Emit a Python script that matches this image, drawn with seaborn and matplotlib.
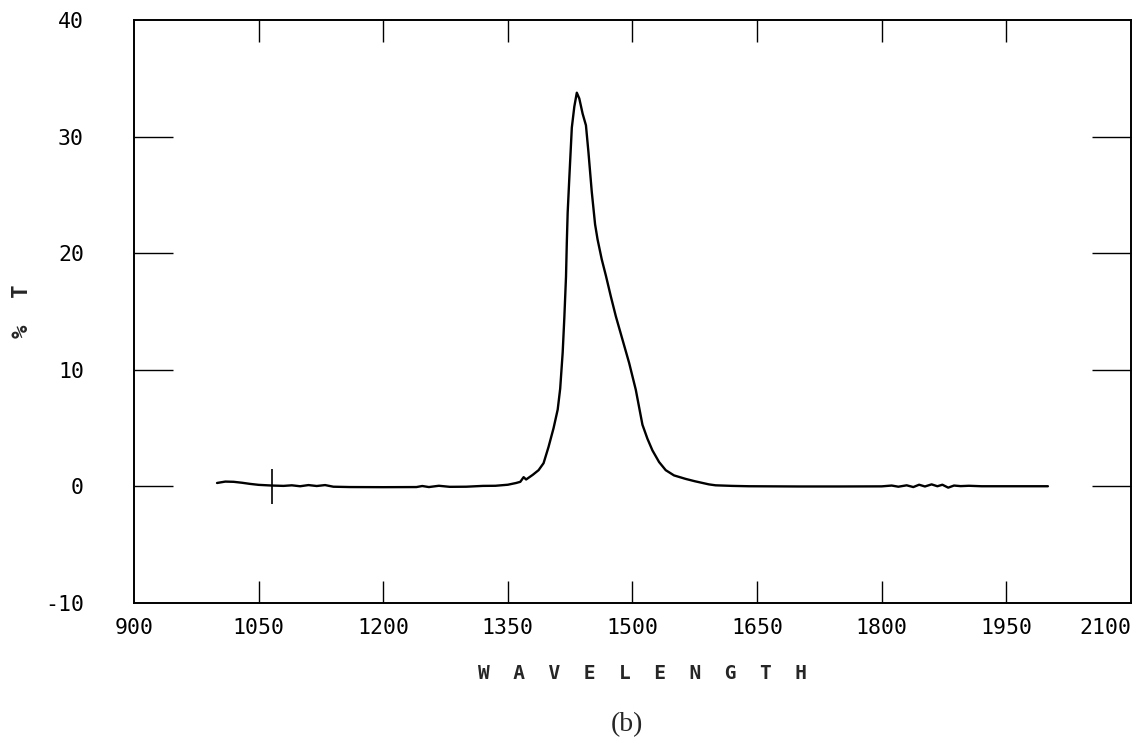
import matplotlib
matplotlib.use("Agg")
import matplotlib.pyplot as plt
import seaborn as sns
import pandas as pd

# Transmission spectrum (nm, % T)
wavelength = [1000, 1010, 1020, 1030, 1040, 1050, 1066, 1080, 1090, 1100,
              1110, 1120, 1130, 1140, 1160, 1200, 1240, 1247, 1255, 1267,
              1280, 1300, 1320, 1335, 1350, 1360, 1365, 1369, 1372, 1380,
              1387, 1393, 1399, 1405, 1410, 1413, 1416, 1418, 1420, 1421,
              1422, 1424, 1427, 1430, 1433, 1436, 1440, 1444, 1447, 1451,
              1455, 1458, 1463, 1468, 1474, 1480, 1488, 1496, 1504, 1512,
              1518, 1524, 1532, 1540, 1550, 1564, 1575, 1592, 1600, 1620,
              1640, 1700, 1750, 1800, 1812, 1820, 1830, 1838, 1845, 1852,
              1860, 1867, 1873, 1880, 1887, 1895, 1905, 1920, 1950, 2000]
transmittance = [0.30, 0.42, 0.40, 0.32, 0.22, 0.14, 0.08, 0.05, 0.10, 0.02,
                 0.12, 0.04, 0.12, -0.02, -0.05, -0.06, -0.05, 0.04, -0.05, 0.06,
                 -0.03, -0.02, 0.05, 0.06, 0.15, 0.30, 0.40, 0.80, 0.60, 1.00,
                 1.40, 2.00, 3.40, 5.00, 6.60, 8.40, 11.5, 14.5, 18.0, 21.0,
                 23.5, 26.5, 30.8, 32.6, 33.8, 33.3, 32.0, 31.0, 28.7, 25.3,
                 22.5, 21.2, 19.5, 18.1, 16.3, 14.6, 12.6, 10.6, 8.3, 5.3,
                 4.1, 3.1, 2.1, 1.4, 0.95, 0.65, 0.45, 0.18, 0.10, 0.05,
                 0.02, 0.00, 0.00, 0.01, 0.08, -0.02, 0.10, -0.05, 0.15, 0.00,
                 0.18, 0.02, 0.15, -0.10, 0.08, 0.03, 0.06, 0.02, 0.02, 0.02]

x_ticks = [900, 1050, 1200, 1350, 1500, 1650, 1800, 1950, 2100]
y_ticks = [-10, 0, 10, 20, 30, 40]

# plotter cursor mark on the baseline
cursor_wavelength = 1066
cursor_span = (-1.5, 1.5)

sns.set_style("ticks")
plt.rcParams['font.family'] = ['DejaVu Sans Mono', 'DejaVu Sans']

fig = plt.figure(figsize=(11.4, 7.47), dpi=100)
ax = fig.add_axes([0.1175, 0.1928, 0.8746, 0.7798])

df = pd.DataFrame({'Wavelength': wavelength, 'T': transmittance})
sns.lineplot(data=df, x='Wavelength', y='T', ax=ax, color='black',
             linewidth=1.7, sort=True)
ax.vlines(cursor_wavelength, *cursor_span, color='black', linewidth=1.2)

ax.set_xlim(900, 2100)
ax.set_ylim(-10, 40)
ax.set_xticks(x_ticks)
ax.set_yticks(y_ticks)
ax.set_xticklabels([str(t) for t in x_ticks])
ax.set_yticklabels([str(t) for t in y_ticks])

ax.tick_params(axis='x', direction='in', top=True, bottom=True,
               length=16, width=1, pad=11, labelsize=15.5, colors='black')
ax.tick_params(axis='y', direction='in', left=True, right=True,
               length=28, width=1, pad=36, labelsize=15.5, colors='black')

# no tick marks in the corners
for axis in (ax.xaxis, ax.yaxis):
    ticks = axis.get_major_ticks()
    for t in (ticks[0], ticks[-1]):
        t.tick1line.set_visible(False)
        t.tick2line.set_visible(False)
ax.get_xticklabels()[-1].set_horizontalalignment('right')
ax.get_xticklabels()[-1].set_x(2104)

for sp in ax.spines.values():
    sp.set_visible(True)
    sp.set_color('black')
    sp.set_linewidth(1.4)

ax.set_xlabel("W  A  V  E  L  E  N  G  T  H", fontsize=14, fontweight='bold')
ax.xaxis.set_label_coords(0.51, -0.104)
ax.set_ylabel("%  T", fontsize=16, fontweight='bold')
ax.yaxis.set_label_coords(-0.102, 0.5)

fig.text(0.55, 0.03, "(b)", family=['Liberation Serif', 'DejaVu Serif'],
         fontsize=20, ha='center', va='center')

fig.savefig('out.png', dpi=100)
